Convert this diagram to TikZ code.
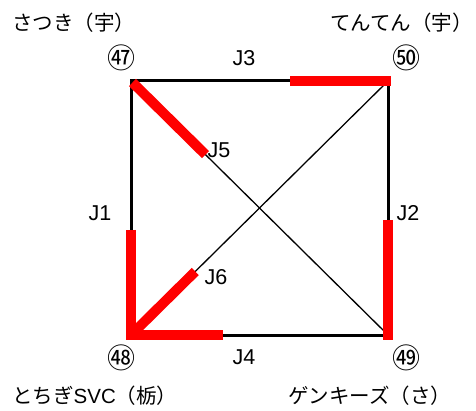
\documentclass[tikz,border=0pt]{standalone}
\usepackage{fontspec}
\usetikzlibrary{calc}
\setmainfont{Liberation Sans}
\newfontfamily\jpfont{Noto Sans CJK JP}
\newfontfamily\latinfont{Liberation Sans}
\begin{document}
\begin{tikzpicture}[x=1pt,y=-1pt,
  edge/.style={line width=3pt,line cap=rect},
  diag/.style={line width=1.3pt},
  redbar/.style={line width=10pt,red,line cap=butt},
  jlab/.style={font=\fontsize{21.5}{22}\selectfont,inner sep=0pt},
  station/.style={font=\jpfont\fontsize{20.5}{22}\selectfont,inner sep=0pt},
  num/.style={font=\jpfont\fontsize{28}{28}\selectfont,inner sep=0pt}]
\useasboundingbox (0,0) rectangle (476,411);
% corners
\coordinate (c47) at (131,81);
\coordinate (c50) at (388,81);
\coordinate (c48) at (131,335);
\coordinate (c49) at (388,335);
% square and diagonals
\draw[edge] (c47) -- (c50) -- (c49) -- (c48) -- cycle;
\draw[diag] (c47) -- (c49);
\draw[diag] (c50) -- (c48);
% red segments
\coordinate (r3) at (290,81);
\coordinate (r2) at (388,220);
\coordinate (r1) at (131,230);
\coordinate (r4) at (223,335);
\coordinate (r5) at ($(c47)!0.29!(c49)$);
\coordinate (r6) at ($(c48)!0.25!(c50)$);
\draw[redbar] (r3) -- ([xshift=3pt]c50);
\draw[redbar] (r2) -- ([yshift=-5pt]c49);
\draw[redbar,line join=miter] (r1) -- (c48) -- (r4);
\draw[redbar] ([shift={(1.5,1.5)}]c47) -- (r5);
\draw[redbar] (c48) -- (r6);
% line labels
\node[jlab] (J3) at (244,58) {J3};
\node[jlab] (J4) at (244,357) {J4};
\node[jlab] (J1) at (100,213) {J1};
\node[jlab] (J2) at (408,213) {J2};
\node[jlab] (J5) at (219,150) {J5};
\node[jlab] (J6) at (216,277) {J6};
% station numbers
\node[num] (n47) at (121,58) {㊼};
\node[num] (n50) at (406,58) {㊿};
\node[num] (n48) at (121,358) {㊽};
\node[num] (n49) at (406,358) {㊾};
% station names
\node[station,anchor=west] (s47) at (12,23) {さつき（宇）};
\node[station,anchor=west] (s50) at (330,23) {てんてん（宇）};
\node[station,anchor=west] (s48) at (12,396) {とちぎ{\latinfont SVC}（栃）};
\node[station,anchor=west] (s49) at (288,396) {ゲンキーズ（さ）};
\end{tikzpicture}
\end{document}
